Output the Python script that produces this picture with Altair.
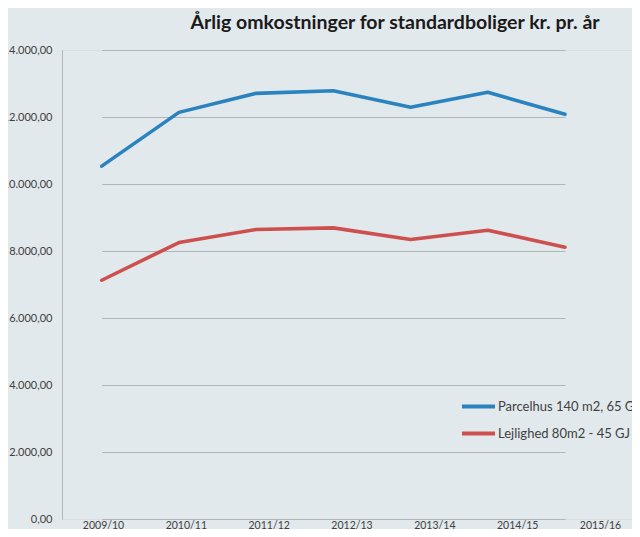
import altair as alt
import pandas as pd

years = ["2009/10", "2010/11", "2011/12", "2012/13", "2013/14", "2014/15", "2015/16"]
parcelhus = [10534, 12138, 12706, 12784, 12288, 12736, 12079]
lejlighed = [7127, 8253, 8642, 8690, 8343, 8621, 8113]
series_names = ["Parcelhus 140 m2, 65 GJ", "Lejlighed 80m2 - 45 GJ"]
y_ticks = [0, 2000, 4000, 6000, 8000, 10000, 12000, 14000]

rows = []
for name, vals in zip(series_names, [parcelhus, lejlighed]):
    for yr, v in zip(years, vals):
        rows.append({"year": yr, "value": v, "series": name})
df = pd.DataFrame(rows)
labels_df = pd.DataFrame({"label": years})

FONT = "Lato"
TXT = "#404040"
GRID = "#b0b5b8"

lines = alt.Chart(df).mark_line(strokeWidth=3.6, strokeCap="round", strokeJoin="round").encode(
    x=alt.X("year:N", sort=years, axis=None,
            scale=alt.Scale(type="point", range=[39.7, 503], padding=0)),
    y=alt.Y("value:Q", scale=alt.Scale(domain=[0, 14000], nice=False),
            axis=alt.Axis(values=y_ticks, format=",.2f", title=None, grid=True,
                          gridColor=GRID, gridWidth=1, domain=True, domainColor=GRID,
                          domainWidth=1, ticks=False, labelPadding=10,
                          labelFontSize=11, labelColor=TXT, labelFont=FONT)),
    color=alt.Color("series:N", sort=series_names,
                    scale=alt.Scale(domain=series_names, range=["#2a83bf", "#cd504f"]),
                    legend=alt.Legend(title=None, orient="none", legendX=398, legendY=338,
                                      symbolType="stroke", symbolSize=1089,
                                      symbolStrokeWidth=4, labelOffset=1,
                                      rowPadding=-10, labelFontSize=13,
                                      labelColor=TXT, labelFont=FONT)),
)

xlabels = alt.Chart(labels_df).mark_point(opacity=0).encode(
    x=alt.X("label:N", sort=years,
            scale=alt.Scale(type="point", range=[41, 538], padding=0),
            axis=alt.Axis(orient="bottom", title=None, domain=False, ticks=False,
                          grid=False, labelPadding=1, labelFontSize=10.5,
                          labelColor=TXT, labelFont=FONT, labelAngle=0,
                          labelBaseline="top")),
    y=alt.value(0),
)

chart = alt.layer(lines, xlabels).resolve_scale(x="independent").properties(
    width=570, height=469,
    autosize=alt.AutoSizeParams(type="none"),
    padding={"left": 54, "top": 42, "right": 0, "bottom": 10},
    background="#e2e9ec",
    title=alt.TitleParams("Årlig omkostninger for standardboliger kr. pr. år",
                          font=FONT, fontSize=19.5, fontWeight="bold", color="#1a1a1a",
                          anchor="middle", dx=48, offset=11),
).configure_view(stroke=None).configure(
    locale=alt.Locale(number=alt.NumberLocale(decimal=",", thousands=".", grouping=[3],
                                             currency=["", " kr."]))
)

chart.save("out.html", embed_options={"renderer": "svg", "actions": False})
